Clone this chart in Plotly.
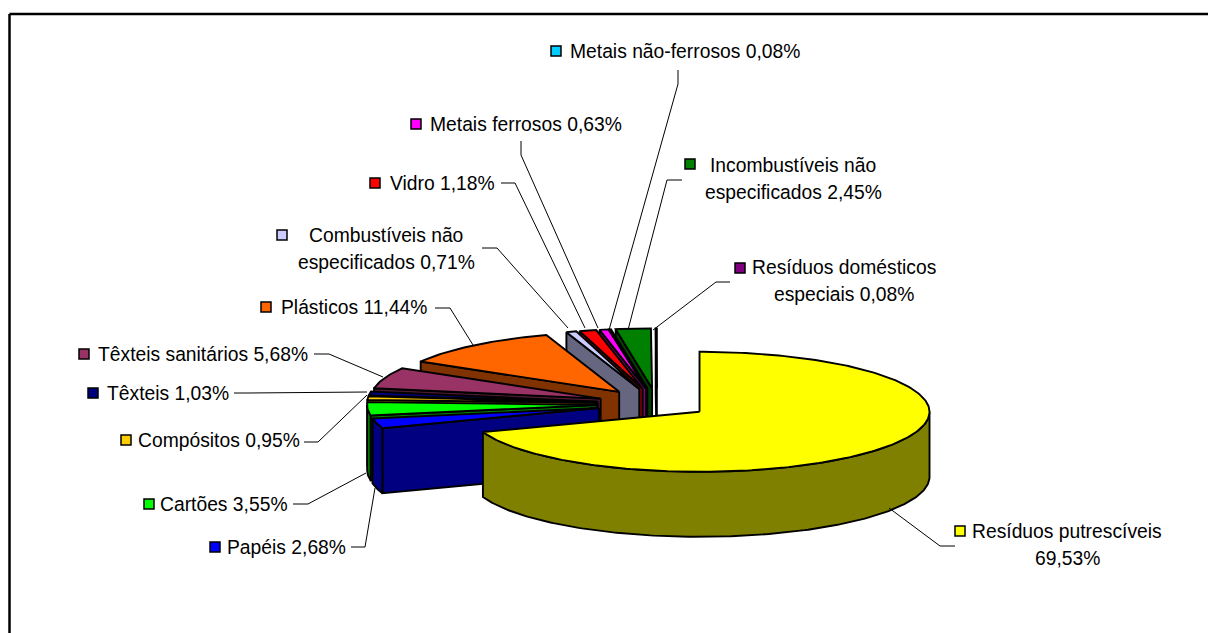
import numpy as np
import plotly.graph_objects as go

# ---- data ----
categories = ["Resíduos putrescíveis", "Papéis", "Cartões", "Compósitos", "Têxteis",
              "Têxteis sanitários", "Plásticos", "Combustíveis não especificados", "Vidro",
              "Metais ferrosos", "Metais não-ferrosos", "Incombustíveis não especificados",
              "Resíduos domésticos especiais"]
values = [69.53, 2.68, 3.55, 0.95, 1.03, 5.68, 11.44, 0.71, 1.18, 0.63, 0.08, 2.45, 0.08]

# ---- styles ----
top_colors = ["#FFFF00", "#0000FF", "#00FF00", "#FFCC00", "#000080", "#993366", "#FF6600",
              "#CCCCFF", "#FF0000", "#FF00FF", "#00CCFF", "#008000", "#800080"]
side_colors = ["#808000", "#000080", "#008000", "#806600", "#000040", "#4D1A33", "#803300",
               "#666680", "#800000", "#800080", "#006680", "#004000", "#400040"]

CX, CY, RX, RY, DEPTH = 657, 404, 230, 60, 65
EXPLODE = [52, 60, 60, 60, 60, 60, 60, 60, 60, 60, 60, 60, 60]
OUTLINE = 1.9
LINE_GAP = 27

# label text, html lines; key position; text anchor x, y
label_lines = [["Resíduos putrescíveis", "69,53%"], ["Papéis 2,68%"], ["Cartões 3,55%"],
               ["Compósitos 0,95%"], ["Têxteis 1,03%"], ["Têxteis sanitários 5,68%"],
               ["Plásticos 11,44%"], ["Combustíveis não", "especificados 0,71%"], ["Vidro 1,18%"],
               ["Metais ferrosos 0,63%"], ["Metais não-ferrosos 0,08%"],
               ["Incombustíveis não", "especificados 2,45%"],
               ["Resíduos domésticos", "especiais 0,08%"]]
key_xy = [(960, 531), (215, 547), (149, 504), (126, 440), (93, 393), (84, 354), (266, 307),
          (282, 235), (375, 183), (416, 124), (556, 51), (690, 164), (740, 268)]
text_cx = [1067, 286, 223.5, 218.5, 167.5, 203, 353.5, 386, 442, 526, 685, 793, 844]
text_y = [544.5, 547, 504, 440, 393, 354, 307, 248.5, 183, 124, 51, 178.5, 281]
leaders = [[(889, 508), (940, 546), (955, 546)], [(351, 547), (365, 547), (375, 488)],
           [(293, 504), (308, 504), (366, 473)], [(304, 442), (318, 442), (367, 395)],
           [(234, 393), (248, 393), (367, 392)], [(314, 354), (329, 354), (383, 377)],
           [(435, 308), (450, 308), (473, 345)], [(482, 248), (497, 248), (568, 328)],
           [(501, 183), (515, 183), (585, 328)], [(521, 141), (521, 155), (598, 328)],
           [(678, 70), (678, 84), (609, 330)], [(682, 180), (667, 180), (628, 330)],
           [(730, 282), (716, 282), (653, 330)]]

fractions = np.array(values) / sum(values)
edges = np.concatenate([[0], np.cumsum(fractions)]) * 2 * np.pi


def rim(ax, ay, t):
    return ax + RX * np.sin(t), ay - RY * np.cos(t)


def poly(fig, xs, ys, color):
    fig.add_trace(go.Scatter(x=list(xs), y=list(ys), mode="lines", fill="toself", fillcolor=color,
                             line=dict(color="black", width=OUTLINE), hoverinfo="skip",
                             showlegend=False))


fig = go.Figure()
order = list(range(len(values) - 1, -1, -1))
for i in order:
    a0, a1 = edges[i], edges[i + 1]
    mid = (a0 + a1) / 2
    ax = CX + EXPLODE[i] * np.sin(mid)
    ay = CY - EXPLODE[i] * RY / RX * np.cos(mid)
    if i > 0:  # radial wall facing viewer
        rx0, ry0 = rim(ax, ay, a0)
        poly(fig, [ax, rx0, rx0, ax, ax], [ay, ry0, ry0 + DEPTH, ay + DEPTH, ay], side_colors[i])
    lo, hi = max(a0, np.pi / 2), min(a1, 3 * np.pi / 2)
    if hi > lo:  # curved outer wall
        t = np.linspace(lo, hi, max(3, int((hi - lo) * 60)))
        xr, yr = rim(ax, ay, t)
        poly(fig, np.r_[xr, xr[::-1], xr[0]], np.r_[yr, yr[::-1] + DEPTH, yr[0]], side_colors[i])
    t = np.linspace(a0, a1, max(3, int((a1 - a0) * 60)))
    xr, yr = rim(ax, ay, t)
    poly(fig, np.r_[ax, xr, ax], np.r_[ay, yr, ay], top_colors[i])

# legend keys
fig.add_trace(go.Scatter(x=[p[0] for p in key_xy], y=[p[1] for p in key_xy], mode="markers",
                         marker=dict(symbol="square", size=10, color=top_colors,
                                     line=dict(color="black", width=1.5)),
                         hoverinfo="skip", showlegend=False))

shapes = [dict(type="line", x0=9.5, x1=1208, y0=14, y1=14, line=dict(color="black", width=2.5)),
          dict(type="line", x0=9.5, x1=9.5, y0=14, y1=633, line=dict(color="black", width=2.5))]
for pts in leaders:
    path = "M " + " L ".join(f"{x} {y}" for x, y in pts)
    shapes.append(dict(type="path", path=path, line=dict(color="black", width=1)))

annotations = []
for lines, x, y in zip(label_lines, text_cx, text_y):
    y0 = y - LINE_GAP * (len(lines) - 1) / 2
    for k, line in enumerate(lines):
        annotations.append(dict(x=x, y=y0 + k * LINE_GAP, text=line, showarrow=False,
                                xanchor="center", yanchor="middle",
                                font=dict(family="Liberation Sans", size=19.3, color="black")))

fig.update_layout(width=1208, height=633, margin=dict(l=0, r=0, t=0, b=0), autosize=False,
                  paper_bgcolor="white", plot_bgcolor="white", shapes=shapes,
                  annotations=annotations, showlegend=False,
                  xaxis=dict(range=[0, 1208], visible=False, fixedrange=True),
                  yaxis=dict(range=[633, 0], visible=False, fixedrange=True))
fig.write_html("out.html", config=dict(displayModeBar=False),
               post_script="document.body.style.margin='0';document.body.style.overflow='hidden';")
